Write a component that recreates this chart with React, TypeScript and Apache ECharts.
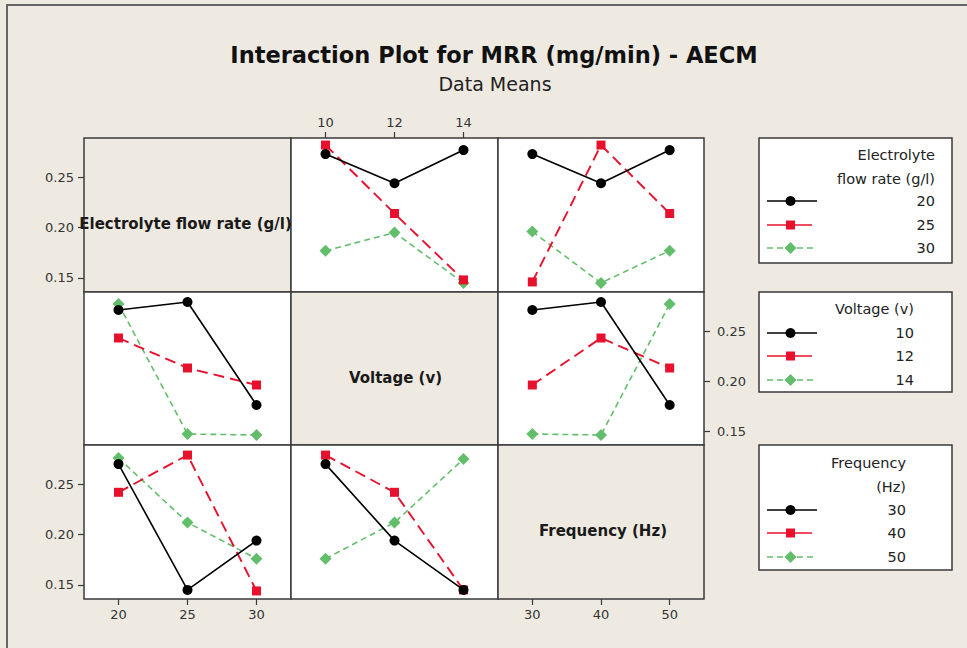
import React, { useEffect, useRef } from "react";
import * as echarts from "echarts";

// ---- factor levels ----
const flowRateLevels = [20, 25, 30];
const voltageLevels = [10, 12, 14];
const frequencyLevels = [30, 40, 50];

// ---- tick labels ----
const mrrTicks = [0.15, 0.2, 0.25];

// ---- Row 1: traces = electrolyte flow rate (20, 25, 30) ----
const flow20VsVoltage = [0.273, 0.244, 0.277];
const flow25VsVoltage = [0.282, 0.214, 0.148];
const flow30VsVoltage = [0.177, 0.195, 0.145];
const flow20VsFrequency = [0.273, 0.244, 0.277];
const flow25VsFrequency = [0.146, 0.282, 0.214];
const flow30VsFrequency = [0.196, 0.145, 0.177];

// ---- Row 2: traces = voltage (10, 12, 14) ----
const volt10VsFlow = [0.271, 0.279, 0.176];
const volt12VsFlow = [0.243, 0.213, 0.196];
const volt14VsFlow = [0.277, 0.147, 0.146];
const volt10VsFrequency = [0.271, 0.279, 0.176];
const volt12VsFrequency = [0.196, 0.243, 0.213];
const volt14VsFrequency = [0.147, 0.146, 0.277];

// ---- Row 3: traces = frequency (30, 40, 50) ----
const freq30VsFlow = [0.270, 0.145, 0.194];
const freq40VsFlow = [0.242, 0.279, 0.144];
const freq50VsFlow = [0.276, 0.212, 0.176];
const freq30VsVoltage = [0.270, 0.194, 0.145];
const freq40VsVoltage = [0.279, 0.242, 0.145];
const freq50VsVoltage = [0.176, 0.212, 0.275];

const factorNames = ["Electrolyte flow rate (g/l)", "Voltage (v)", "Frequency (Hz)"];
const factorLevels = [flowRateLevels, voltageLevels, frequencyLevels];
const factorRanges = [
  [17.5, 32.5],
  [9, 15],
  [25, 55],
];
const yRange = [0.136, 0.289];

const panelTraces: Record<string, number[][]> = {
  "0-1": [flow20VsVoltage, flow25VsVoltage, flow30VsVoltage],
  "0-2": [flow20VsFrequency, flow25VsFrequency, flow30VsFrequency],
  "1-0": [volt10VsFlow, volt12VsFlow, volt14VsFlow],
  "1-2": [volt10VsFrequency, volt12VsFrequency, volt14VsFrequency],
  "2-0": [freq30VsFlow, freq40VsFlow, freq50VsFlow],
  "2-1": [freq30VsVoltage, freq40VsVoltage, freq50VsVoltage],
};

const BG = "#EEEAE1";
const BORDER = "#3a3a3a";
const FONT = "DejaVu Sans";
const traceColors = ["#000000", "#E8112D", "#63BE6B"];
const traceSymbols = ["circle", "rect", "diamond"];
const traceSymbolSizes = [10, 9, 12];
const traceDash: any[] = ["solid", [11, 6], [6, 4]];
const traceWidths = [1.6, 1.9, 1.6];

const colX = [84, 291, 498, 704];
const rowY = [138, 292, 445, 599];
const diagLabelDx = [-2, 1, 2];

function buildOption() {
  const grids: any[] = [];
  const xAxes: any[] = [];
  const yAxes: any[] = [];
  const series: any[] = [];
  const graphics: any[] = [];

  for (let r = 0; r < 3; r++) {
    for (let c = 0; c < 3; c++) {
      const idx = r * 3 + c;
      const diag = r === c;
      grids.push({
        left: colX[c],
        top: rowY[r],
        width: colX[c + 1] - colX[c],
        height: rowY[r + 1] - rowY[r],
        show: true,
        backgroundColor: diag ? BG : "#ffffff",
        borderColor: BORDER,
        borderWidth: 1.5,
        containLabel: false,
      });
      const xLabeled = (r === 0 && c === 1) || (r === 2 && c === 0) || (r === 2 && c === 2);
      const yLabeled = (r === 0 && c === 0) || (r === 1 && c === 2) || (r === 2 && c === 0);
      xAxes.push({
        type: "value",
        gridIndex: idx,
        min: factorRanges[c][0],
        max: factorRanges[c][1],
        position: r === 0 ? "top" : "bottom",
        axisLine: { show: false },
        splitLine: { show: false },
        axisTick: {
          show: xLabeled,
          length: 6,
          customValues: factorLevels[c],
          lineStyle: { color: BORDER, width: 1.2 },
        },
        axisLabel: {
          show: xLabeled,
          customValues: factorLevels[c],
          margin: 9,
          color: "#333",
          fontFamily: FONT,
          fontSize: 13,
        },
      });
      yAxes.push({
        type: "value",
        gridIndex: idx,
        min: yRange[0],
        max: yRange[1],
        position: c === 2 ? "right" : "left",
        axisLine: { show: false },
        splitLine: { show: false },
        axisTick: {
          show: yLabeled,
          length: 6,
          customValues: mrrTicks,
          lineStyle: { color: BORDER, width: 1.2 },
        },
        axisLabel: {
          show: yLabeled,
          customValues: mrrTicks,
          margin: c === 2 ? 13 : 10,
          color: "#333",
          fontFamily: FONT,
          fontSize: 13,
          formatter: (v: number) => v.toFixed(2),
        },
      });
      if (diag) {
        graphics.push({
          type: "text",
          x: (colX[c] + colX[c + 1]) / 2 + diagLabelDx[r],
          y: (rowY[r] + rowY[r + 1]) / 2 + 9,
          z: 100,
          style: {
            text: factorNames[r],
            textAlign: "center",
            textVerticalAlign: "middle",
            fill: "#1a1a1a",
            fontFamily: FONT,
            fontWeight: "bold",
            fontSize: 15,
          },
        });
      } else {
        const traces = panelTraces[`${r}-${c}`];
        traces.forEach((vals, k) => {
          series.push({
            type: "line",
            name: `${factorNames[r]} ${factorLevels[r][k]}`,
            xAxisIndex: idx,
            yAxisIndex: idx,
            data: factorLevels[c].map((x, i) => [x, vals[i]]),
            symbol: traceSymbols[k],
            symbolSize: traceSymbolSizes[k],
            itemStyle: { color: traceColors[k] },
            lineStyle: { color: traceColors[k], width: traceWidths[k], type: traceDash[k] },
            z: 3 - k + 2,
          });
        });
      }
    }
  }

  // legends
  const legends = [
    { top: 138, bottom: 263, titles: ["Electrolyte", "flow rate (g/l)"], titleY: [155, 179], textRight: 935, itemY: [201, 225, 248], levels: flowRateLevels },
    { top: 292, bottom: 392, titles: ["Voltage (v)"], titleY: [309], textRight: 914, itemY: [333, 356, 380], levels: voltageLevels },
    { top: 445, bottom: 570, titles: ["Frequency", "(Hz)"], titleY: [463, 487], textRight: 906, itemY: [510, 533, 557], levels: frequencyLevels },
  ];
  const lgLeft = 759;
  const lgRight = 952;
  legends.forEach((lg) => {
    graphics.push({
      type: "rect",
      shape: { x: lgLeft, y: lg.top, width: lgRight - lgLeft, height: lg.bottom - lg.top },
      style: { fill: "#ffffff", stroke: BORDER, lineWidth: 1.5 },
      z: 50,
    });
    lg.titles.forEach((t, i) => {
      graphics.push({
        type: "text",
        x: lg.textRight,
        y: lg.titleY[i],
        z: 60,
        style: { text: t, textAlign: "right", textVerticalAlign: "middle", fill: "#222", fontFamily: FONT, fontSize: 14.5 },
      });
    });
    lg.levels.forEach((lv, k) => {
      const y = lg.itemY[k];
      const cx = 790.5;
      graphics.push({
        type: "line",
        z: 60,
        shape: { x1: 767, y1: y, x2: k === 1 ? 812 : 817, y2: y },
        style: { stroke: traceColors[k], lineWidth: 1.6, lineDash: k === 2 ? [6, 4] : null },
      });
      if (k === 0) {
        graphics.push({ type: "circle", z: 61, shape: { cx, cy: y, r: 5 }, style: { fill: traceColors[0] } });
      } else if (k === 1) {
        graphics.push({ type: "rect", z: 61, shape: { x: cx - 4.5, y: y - 4.5, width: 9, height: 9 }, style: { fill: traceColors[1] } });
      } else {
        graphics.push({
          type: "polygon",
          z: 61,
          shape: { points: [[cx, y - 6], [cx + 6, y], [cx, y + 6], [cx - 6, y]] },
          style: { fill: traceColors[2] },
        });
      }
      graphics.push({
        type: "text",
        x: lg.textRight,
        y,
        z: 60,
        style: { text: String(lv), textAlign: "right", textVerticalAlign: "middle", fill: "#222", fontFamily: FONT, fontSize: 14.5 },
      });
    });
  });

  // outer frame (top and left edge)
  graphics.push({
    type: "polyline",
    z: 70,
    shape: { points: [[7, 648], [7, 5], [967, 5]] },
    style: { stroke: "#666", lineWidth: 2, fill: null },
  });

  return {
    animation: false,
    backgroundColor: BG,
    title: [
      {
        text: "Interaction Plot for MRR (mg/min) - AECM",
        left: 489,
        top: 38,
        textAlign: "center",
        textStyle: { fontFamily: FONT, fontWeight: "bold", fontSize: 22.5, color: "#111" },
      },
      {
        text: "Data Means",
        left: 490,
        top: 69,
        textAlign: "center",
        textStyle: { fontFamily: FONT, fontWeight: "normal", fontSize: 19, color: "#222" },
      },
    ],
    grid: grids,
    xAxis: xAxes,
    yAxis: yAxes,
    series,
    graphic: graphics,
  };
}

export default function App() {
  const ref = useRef<HTMLDivElement>(null);
  useEffect(() => {
    if (!ref.current) return;
    const chart = echarts.init(ref.current, null, { renderer: "svg" });
    chart.setOption(buildOption() as any);
    return () => chart.dispose();
  }, []);
  return <div ref={ref} style={{ position: "fixed", left: 0, top: 0, width: 967, height: 648 }} />;
}
